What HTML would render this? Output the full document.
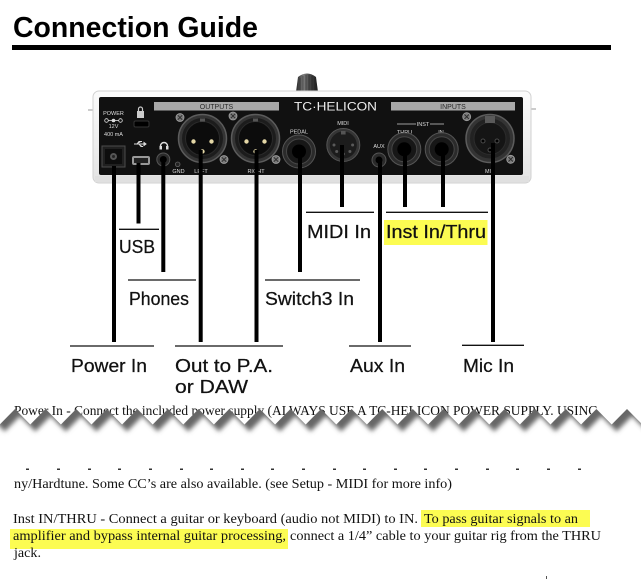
<!DOCTYPE html>
<html><head><meta charset="utf-8"><style>
html,body{margin:0;padding:0;background:#fff;}
svg{display:block;}
</style></head><body>
<svg width="641" height="581" viewBox="0 0 641 581" xmlns="http://www.w3.org/2000/svg">
<defs>
  <linearGradient id="knob" x1="0" y1="0" x2="1" y2="0">
    <stop offset="0" stop-color="#262626"/><stop offset="0.35" stop-color="#7c7c7c"/>
    <stop offset="0.6" stop-color="#4a4a4a"/><stop offset="1" stop-color="#1c1c1c"/>
  </linearGradient>
  <linearGradient id="case" x1="0" y1="0" x2="0" y2="1">
    <stop offset="0" stop-color="#fbfbfb"/><stop offset="1" stop-color="#e4e4e4"/>
  </linearGradient>
  <filter id="blur" x="-10%" y="-50%" width="120%" height="200%"><feGaussianBlur stdDeviation="2.3"/></filter>
  <clipPath id="gapclip"><path d="M-15.6,409 L-0.3,424.5 L15,409 L30.3,424.5 L45.6,409 L60.9,424.5 L76.2,409 L91.5,424.5 L106.8,409 L122.1,424.5 L137.4,409 L152.7,424.5 L168,409 L183.3,424.5 L198.6,409 L213.9,424.5 L229.2,409 L244.5,424.5 L259.8,409 L275.1,424.5 L290.4,409 L305.7,424.5 L321,409 L336.3,424.5 L351.6,409 L366.9,424.5 L382.2,409 L397.5,424.5 L412.8,409 L428.1,424.5 L443.4,409 L458.7,424.5 L474,409 L489.3,424.5 L504.6,409 L519.9,424.5 L535.2,409 L550.5,424.5 L565.8,409 L581.1,424.5 L596.4,409 L611.7,424.5 L627,409 L642.3,424.5 L657.6,409 L660,468 L-20,468 Z"/></clipPath>
  <g id="screw"><circle r="4" fill="#7a7a7a" stroke="#a0a0a0" stroke-width="0.8"/><path d="M-2.2,-2.2 L2.2,2.2 M-2.2,2.2 L2.2,-2.2" stroke="#2a2a2a" stroke-width="0.9"/></g>
  <g id="jack"><circle r="16.5" fill="#2b2b2b" stroke="#555" stroke-width="1"/><circle r="12.5" fill="#171717" stroke="#464646" stroke-width="1"/><circle r="7" fill="#000"/></g>
  <g id="xlrm"><circle r="24" fill="#343434" stroke="#5c5c5c" stroke-width="1.5"/><circle r="20.5" fill="#1c1c1c"/><circle r="17" fill="#0c0c0c" stroke="#2a2a2a"/><rect x="-2.5" y="-20" width="5" height="3" fill="#555"/><circle cx="-9" cy="3" r="2.2" fill="#e4d7a6"/><circle cx="9" cy="3" r="2.2" fill="#e4d7a6"/><circle cx="0" cy="13" r="2.2" fill="#e4d7a6"/></g>
</defs>

<!-- Title -->
<text x="13" y="37" font-family="Liberation Sans, sans-serif" font-weight="bold" font-size="29" fill="#000" textLength="245" lengthAdjust="spacingAndGlyphs">Connection Guide</text>
<rect x="12" y="45" width="599" height="5" fill="#000"/>

<!-- Device -->
<path d="M296,92 L298,77 Q307,70 316,77 L318,92 Z" fill="url(#knob)"/>
<path d="M300,78 V91 M303,76 V91 M306,75 V91 M309,75 V91 M312,76 V91 M315,78 V91" stroke="#1a1a1a" stroke-width="0.7" opacity="0.6"/>
<rect x="88" y="109.5" width="6" height="1" fill="#999"/>
<rect x="529" y="108.5" width="7" height="1" fill="#999"/>
<rect x="93" y="91" width="438" height="92" rx="6" fill="url(#case)" stroke="#d2d2d2" stroke-width="1"/>
<rect x="95" y="176" width="434" height="6" fill="#e0e0e0"/>
<rect x="99" y="97" width="424" height="78" rx="2" fill="#111"/>

<rect x="154" y="102" width="125" height="8.5" fill="#a8a8a8"/>
<text x="216.5" y="109" font-family="Liberation Sans, sans-serif" font-size="7" fill="#2a2a2a" text-anchor="middle">OUTPUTS</text>
<text x="294" y="110.5" font-family="Liberation Sans, sans-serif" font-size="12" fill="#eee" textLength="83" lengthAdjust="spacingAndGlyphs">TC·HELICON</text>
<rect x="391" y="102" width="124" height="8.5" fill="#a8a8a8"/>
<text x="453" y="109" font-family="Liberation Sans, sans-serif" font-size="7" fill="#2a2a2a" text-anchor="middle">INPUTS</text>

<g font-family="Liberation Sans, sans-serif" font-size="5.5" fill="#ddd" text-anchor="middle">
  <text x="113.5" y="115">POWER</text>
  <text x="113.5" y="128">12V</text>
  <text x="113.5" y="136">400 mA</text>
  <text x="178.5" y="173">GND</text>
  <text x="201" y="173">LEFT</text>
  <text x="256" y="173">RIGHT</text>
  <text x="299" y="133.5">PEDAL</text>
  <text x="343" y="125">MIDI</text>
  <text x="379" y="148">AUX</text>
  <text x="404.5" y="134">THRU</text>
  <text x="441" y="134">IN</text>
  <text x="423" y="126">INST</text>
  <text x="490" y="173">MIC</text>
</g>
<path d="M397,124 H416 M430,124 H444" stroke="#ccc" stroke-width="0.8"/>
<g stroke="#ddd" stroke-width="0.8" fill="none">
  <circle cx="106.5" cy="120.5" r="1.8"/><circle cx="120.5" cy="120.5" r="1.8"/>
  <path d="M108.3,120.5 H118.7"/>
</g>
<circle cx="113.5" cy="120.5" r="1.8" fill="#ddd"/>

<!-- power jack -->
<rect x="102" y="146" width="23" height="21" fill="#202020" stroke="#4c4c4c"/>
<rect x="105" y="149" width="17" height="15" fill="#0d0d0d"/>
<circle cx="113.5" cy="156.5" r="3.5" fill="#555"/><circle cx="113.5" cy="156.5" r="1.5" fill="#222"/>
<!-- lock -->
<path d="M138.5,111 v-2 a2,2 0 0 1 4,0 v2" stroke="#ccc" stroke-width="1.2" fill="none"/>
<rect x="137" y="111" width="7" height="7" fill="#ccc"/>
<rect x="134" y="121" width="15" height="6" rx="1.5" fill="#000" stroke="#333"/>
<!-- usb -->
<path d="M134,144 H146 M137,144 L139,141.5 H142 M139,144 L141,146.5 H143 M146,144 l-2,-1.5 v3 z" stroke="#ddd" stroke-width="1" fill="#ddd"/>
<rect x="132" y="156" width="18" height="9" rx="2" fill="#999"/>
<rect x="134" y="158" width="14" height="5" fill="#222"/>
<!-- phones -->
<path d="M160.5,149 v-3 a3.5,3.5 0 0 1 7,0 v3" stroke="#ddd" stroke-width="1.4" fill="none"/>
<rect x="159.5" y="146" width="2.5" height="3.5" fill="#ddd"/><rect x="166" y="146" width="2.5" height="3.5" fill="#ddd"/>
<circle cx="163.3" cy="159.5" r="6.5" fill="#2a2a2a" stroke="#555"/><circle cx="163.3" cy="159.5" r="3.5" fill="#000"/>
<circle cx="177.7" cy="164.3" r="2.3" fill="#222" stroke="#666" stroke-width="0.8"/>
<!-- XLR outs -->
<use href="#xlrm" x="202.5" y="138.5"/>
<use href="#xlrm" x="255.5" y="138.5"/>
<use href="#screw" x="180" y="117.5"/><use href="#screw" x="224" y="159.5"/>
<use href="#screw" x="233" y="116"/><use href="#screw" x="276" y="159.5"/>
<!-- pedal -->
<use href="#jack" x="299" y="151.5"/>
<!-- midi -->
<circle cx="343.3" cy="145" r="16.5" fill="#353535" stroke="#555"/>
<circle cx="343.3" cy="145" r="13.5" fill="#1c1c1c"/>
<rect x="341" y="131" width="4.6" height="3.5" fill="#555"/>
<g fill="#5a5a5a"><circle cx="334" cy="145" r="1.5"/><circle cx="352.6" cy="145" r="1.5"/><circle cx="336.7" cy="151.5" r="1.5"/><circle cx="349.9" cy="151.5" r="1.5"/><circle cx="343.3" cy="154" r="1.5"/></g>
<!-- aux -->
<circle cx="379" cy="160" r="7" fill="#2a2a2a" stroke="#555"/><circle cx="379" cy="160" r="3.5" fill="#000"/>
<!-- inst -->
<use href="#jack" x="404.3" y="149.3"/>
<use href="#jack" x="441.7" y="149.3"/>
<!-- mic -->
<circle cx="490" cy="138.5" r="24" fill="#343434" stroke="#5c5c5c" stroke-width="1.5"/>
<circle cx="490" cy="138.5" r="20" fill="#222"/>
<circle cx="490" cy="138.5" r="16" fill="#151515" stroke="#2c2c2c"/>
<rect x="485" y="116" width="10" height="7" fill="#5a5a5a"/>
<g fill="#000" stroke="#4a4a4a"><circle cx="483" cy="141" r="2"/><circle cx="497" cy="141" r="2"/><circle cx="490" cy="150" r="2"/></g>
<use href="#screw" x="466.7" y="116.7"/><use href="#screw" x="510.7" y="159.3"/>

<!-- connector lines -->
<g stroke="#000" stroke-width="4">
  <line x1="114" y1="166" x2="114" y2="342"/>
  <line x1="138.5" y1="163" x2="138.5" y2="223.5"/>
  <line x1="163.3" y1="162" x2="163.3" y2="272"/>
  <line x1="200.7" y1="150" x2="200.7" y2="342"/>
  <line x1="256.5" y1="150" x2="256.5" y2="342"/>
  <line x1="300" y1="152" x2="300" y2="272"/>
  <line x1="342" y1="145" x2="342" y2="207"/>
  <line x1="380" y1="160" x2="380" y2="342"/>
  <line x1="405" y1="149" x2="405" y2="207"/>
  <line x1="443" y1="149" x2="443" y2="207"/>
  <line x1="493" y1="143" x2="493" y2="342"/>
</g>
<g stroke="#111" stroke-width="1.3">
  <line x1="119" y1="229.3" x2="159" y2="229.3"/>
  <line x1="128" y1="280" x2="196" y2="280"/>
  <line x1="70" y1="346" x2="154" y2="346"/>
  <line x1="175" y1="346" x2="283" y2="346"/>
  <line x1="265" y1="280" x2="360" y2="280"/>
  <line x1="306" y1="212.3" x2="374" y2="212.3"/>
  <line x1="386" y1="212.3" x2="488" y2="212.3"/>
  <line x1="349" y1="346" x2="411" y2="346"/>
  <line x1="462" y1="345.3" x2="524" y2="345.3"/>
</g>
<rect x="384" y="220" width="103.5" height="25" fill="#fcfc52"/>
<g font-family="Liberation Sans, sans-serif" font-size="18.5" fill="#111" stroke="#111" stroke-width="0.25">
  <text x="119" y="253" textLength="36" lengthAdjust="spacingAndGlyphs">USB</text>
  <text x="129" y="305" textLength="60" lengthAdjust="spacingAndGlyphs">Phones</text>
  <text x="71" y="372" textLength="76" lengthAdjust="spacingAndGlyphs">Power In</text>
  <text x="175" y="372" textLength="98" lengthAdjust="spacingAndGlyphs">Out to P.A.</text>
  <text x="175" y="393" textLength="73" lengthAdjust="spacingAndGlyphs">or DAW</text>
  <text x="265" y="305" textLength="89" lengthAdjust="spacingAndGlyphs">Switch3 In</text>
  <text x="307" y="238" textLength="64" lengthAdjust="spacingAndGlyphs">MIDI In</text>
  <text x="386" y="238" textLength="100" lengthAdjust="spacingAndGlyphs">Inst In/Thru</text>
  <text x="350" y="372" textLength="55" lengthAdjust="spacingAndGlyphs">Aux In</text>
  <text x="463" y="372" textLength="51" lengthAdjust="spacingAndGlyphs">Mic In</text>
</g>

<!-- torn section -->
<text x="14" y="415" font-family="Liberation Serif, serif" font-size="14" fill="#111" textLength="584" lengthAdjust="spacingAndGlyphs">Power In - Connect the included power supply (ALWAYS USE A TC-HELICON POWER SUPPLY. USING</text>
<path d="M-15.6,409 L-0.3,424.5 L15,409 L30.3,424.5 L45.6,409 L60.9,424.5 L76.2,409 L91.5,424.5 L106.8,409 L122.1,424.5 L137.4,409 L152.7,424.5 L168,409 L183.3,424.5 L198.6,409 L213.9,424.5 L229.2,409 L244.5,424.5 L259.8,409 L275.1,424.5 L290.4,409 L305.7,424.5 L321,409 L336.3,424.5 L351.6,409 L366.9,424.5 L382.2,409 L397.5,424.5 L412.8,409 L428.1,424.5 L443.4,409 L458.7,424.5 L474,409 L489.3,424.5 L504.6,409 L519.9,424.5 L535.2,409 L550.5,424.5 L565.8,409 L581.1,424.5 L596.4,409 L611.7,424.5 L627,409 L642.3,424.5 L657.6,409 L660,468 L-20,468 Z" fill="#fff"/>
<g clip-path="url(#gapclip)">
  <path transform="translate(5,7)" filter="url(#blur)" fill="#666" d="M-20,380 L-15.6,409 L-0.3,424.5 L15,409 L30.3,424.5 L45.6,409 L60.9,424.5 L76.2,409 L91.5,424.5 L106.8,409 L122.1,424.5 L137.4,409 L152.7,424.5 L168,409 L183.3,424.5 L198.6,409 L213.9,424.5 L229.2,409 L244.5,424.5 L259.8,409 L275.1,424.5 L290.4,409 L305.7,424.5 L321,409 L336.3,424.5 L351.6,409 L366.9,424.5 L382.2,409 L397.5,424.5 L412.8,409 L428.1,424.5 L443.4,409 L458.7,424.5 L474,409 L489.3,424.5 L504.6,409 L519.9,424.5 L535.2,409 L550.5,424.5 L565.8,409 L581.1,424.5 L596.4,409 L611.7,424.5 L627,409 L642.3,424.5 L657.6,409 L660,380 Z"/>
</g>
<g fill="#333">
  <rect x="26" y="468.5" width="3" height="1.5"/><rect x="57" y="468.5" width="3" height="1.5"/><rect x="88" y="468.5" width="3" height="1.5"/><rect x="118" y="468.5" width="3" height="1.5"/><rect x="149" y="468.5" width="3" height="1.5"/><rect x="180" y="468.5" width="3" height="1.5"/><rect x="210" y="468.5" width="3" height="1.5"/><rect x="241" y="468.5" width="3" height="1.5"/><rect x="271" y="468.5" width="3" height="1.5"/><rect x="302" y="468.5" width="3" height="1.5"/><rect x="333" y="468.5" width="3" height="1.5"/><rect x="363" y="468.5" width="3" height="1.5"/><rect x="394" y="468.5" width="3" height="1.5"/><rect x="424" y="468.5" width="3" height="1.5"/><rect x="455" y="468.5" width="3" height="1.5"/><rect x="486" y="468.5" width="3" height="1.5"/><rect x="516" y="468.5" width="3" height="1.5"/><rect x="547" y="468.5" width="3" height="1.5"/><rect x="578" y="468.5" width="3" height="1.5"/>
</g>
<text x="14" y="488" font-family="Liberation Serif, serif" font-size="14" fill="#111" textLength="438" lengthAdjust="spacingAndGlyphs">ny/Hardtune. Some CC’s are also available. (see Setup - MIDI for more info)</text>

<!-- body paragraph -->
<rect x="421" y="510" width="169" height="17" fill="#fcfc52"/>
<rect x="10" y="529" width="278" height="20" fill="#fcfc52"/>
<g font-family="Liberation Serif, serif" font-size="14" fill="#111">
  <text x="13" y="523" textLength="405" lengthAdjust="spacingAndGlyphs">Inst IN/THRU - Connect a guitar or keyboard (audio not MIDI) to IN.</text>
  <text x="424" y="523" textLength="154" lengthAdjust="spacingAndGlyphs">To pass guitar signals to an</text>
  <text x="13" y="540" textLength="273" lengthAdjust="spacingAndGlyphs">amplifier and bypass internal guitar processing,</text>
  <text x="290" y="540" textLength="311" lengthAdjust="spacingAndGlyphs">connect a 1/4” cable to your guitar rig from the THRU</text>
  <text x="14" y="557" textLength="27" lengthAdjust="spacingAndGlyphs">jack.</text>
</g>
<rect x="546" y="576" width="1" height="3" fill="#555"/>
</svg>
</body></html>
